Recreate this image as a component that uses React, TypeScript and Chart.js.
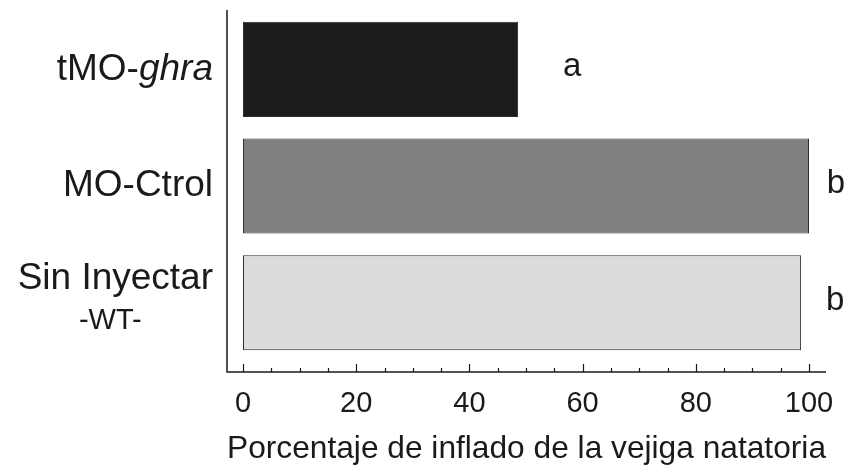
import { useEffect, useRef } from "react";
import { Chart, registerables } from "chart.js";

Chart.register(...registerables);

// Groups: plain text part, then the italic gene-name part
const labelParts: [string, string][] = [
  ["tMO-", "ghra"],
  ["MO-Ctrol", ""],
  ["Sin Inyectar", ""],
];
const sublabels = ["", "", "-WT-"];
const categories = labelParts.map((p) => p.join(""));

// Swim bladder inflation (%)
const inflationPct = [48.6, 100, 98.6];
const significance = ["a", "b", "b"];
const barColors = ["#1c1c1c", "#808080", "#dcdcdc"];

const xMajorTicks = [0, 20, 40, 60, 80, 100];
const xMinorStep = 5;
const xTitle = "Porcentaje de inflado de la vejiga natatoria";

const FONT = "'Liberation Sans', Arial, Helvetica, sans-serif";
const INK = "#1a1a1a";

// Extra room between the lowest bar band and the x axis line
const AXIS_GAP = 11;
// Horizontal offset (px) of each significance letter from its bar end
const letterOffsets = [54, 27, 34];

const decorations = {
  id: "decorations",
  afterDraw(chart: any) {
    const { ctx, chartArea, scales } = chart;
    const x = scales.x;
    const y = scales.y;
    const axisY = chartArea.bottom + AXIS_GAP;

    ctx.save();
    ctx.strokeStyle = INK;
    ctx.lineWidth = 1.5;
    ctx.lineCap = "butt";

    // axis lines
    ctx.beginPath();
    ctx.moveTo(chartArea.left, chartArea.top - 1);
    ctx.lineTo(chartArea.left, axisY);
    ctx.lineTo(chartArea.right, axisY);
    ctx.stroke();

    // inward tick marks: long at labelled values, short in between
    ctx.lineWidth = 1.2;
    x.ticks.forEach((t: any) => {
      const px = Math.round(x.getPixelForValue(t.value)) + 0.5;
      const len = xMajorTicks.includes(t.value) ? 8 : 4;
      ctx.beginPath();
      ctx.moveTo(px, axisY);
      ctx.lineTo(px, axisY - len);
      ctx.stroke();
    });

    // category labels, right aligned left of the axis
    ctx.fillStyle = INK;
    ctx.textBaseline = "middle";
    const labelRight = chartArea.left - 14;
    const mainFont = `37px ${FONT}`;
    const italicFont = `italic 37px ${FONT}`;
    labelParts.forEach(([plain, italic], i) => {
      const cy = y.getPixelForValue(i);
      const hasSub = sublabels[i] !== "";
      const ly = hasSub ? cy - 24 : cy;
      ctx.font = italicFont;
      const wItalic = italic ? ctx.measureText(italic).width : 0;
      ctx.font = mainFont;
      const wPlain = ctx.measureText(plain).width;
      ctx.textAlign = "left";
      ctx.fillText(plain, labelRight - wItalic - wPlain, ly);
      if (italic) {
        ctx.font = italicFont;
        ctx.fillText(italic, labelRight - wItalic, ly);
      }
      if (hasSub) {
        ctx.font = `29px ${FONT}`;
        ctx.textAlign = "center";
        ctx.fillText(sublabels[i], labelRight - wPlain / 2 - 5, cy + 18);
      }
    });

    // significance letters
    ctx.font = `33px ${FONT}`;
    ctx.textAlign = "center";
    significance.forEach((s, i) => {
      const px = x.getPixelForValue(inflationPct[i]) + letterOffsets[i];
      const py = y.getPixelForValue(i) - 2;
      ctx.fillText(s, px, py);
    });
    ctx.restore();
  },
};

export default function App() {
  const canvasRef = useRef<HTMLCanvasElement>(null);

  useEffect(() => {
    document.body.style.margin = "0";
    const canvas = canvasRef.current;
    if (!canvas) return;
    const chart = new Chart(canvas, {
      type: "bar",
      data: {
        labels: categories,
        datasets: [
          {
            data: inflationPct,
            backgroundColor: barColors,
            borderColor: "#2b2b2b",
            borderWidth: 1,
            borderSkipped: false,
            barPercentage: 0.815,
            categoryPercentage: 1,
          },
        ],
      },
      options: {
        indexAxis: "y",
        responsive: false,
        animation: false,
        devicePixelRatio: 1,
        layout: { padding: { left: 227, right: 21, top: 11, bottom: 0 } },
        plugins: {
          legend: { display: false },
          tooltip: { enabled: false },
        },
        scales: {
          y: {
            type: "category",
            display: false,
            offset: true,
          },
          x: {
            type: "linear",
            min: -2.83,
            max: 103,
            grid: { display: false, drawTicks: false },
            border: { display: false },
            afterBuildTicks(scale: any) {
              const first = xMajorTicks[0];
              const last = xMajorTicks[xMajorTicks.length - 1];
              const ticks = [];
              for (let v = first; v <= last; v += xMinorStep) ticks.push({ value: v });
              scale.ticks = ticks;
            },
            afterFit(scale: any) {
              // labels may overhang the plot edges; keep the plot width fixed
              scale.height = 107;
              scale.paddingLeft = 0;
              scale.paddingRight = 0;
            },
            ticks: {
              autoSkip: false,
              maxRotation: 0,
              padding: 26,
              color: INK,
              font: { family: FONT, size: 29 },
              callback: (v: any) => (xMajorTicks.includes(Number(v)) ? String(v) : ""),
            },
            title: {
              display: true,
              text: xTitle,
              color: INK,
              font: { family: FONT, size: 32 },
              padding: { top: 4, bottom: 0 },
            },
          },
        },
      },
      plugins: [decorations],
    });
    return () => chart.destroy();
  }, []);

  return (
    <div style={{ width: 847, height: 468, background: "#fff" }}>
      <canvas ref={canvasRef} width={847} height={468} />
    </div>
  );
}
